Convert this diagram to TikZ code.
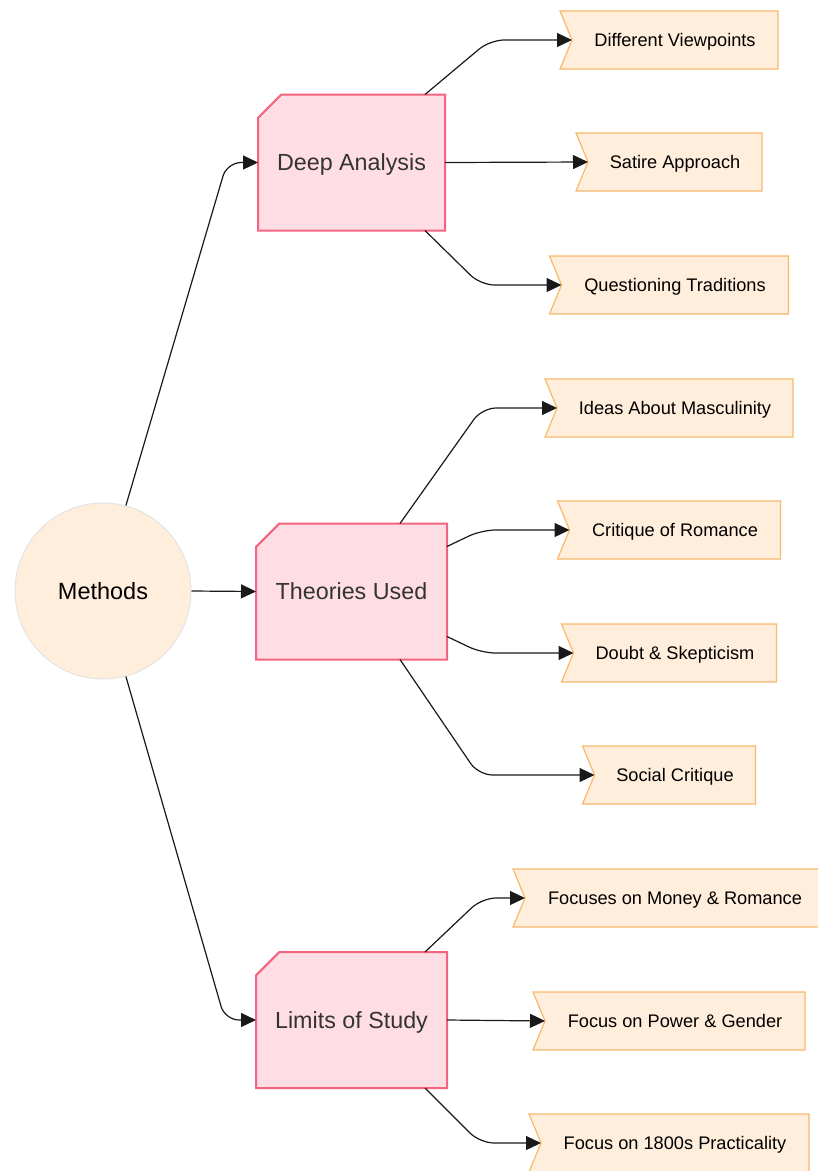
\documentclass[tikz,border=0pt]{standalone}
\usepackage{fontspec}
\setmainfont{Liberation Sans}
\usetikzlibrary{arrows.meta,shapes.misc,calc}
\pgfdeclarelayer{background}
\pgfsetlayers{background,main}
\definecolor{pinkfill}{HTML}{FFDDE4}
\definecolor{pinkline}{HTML}{F2647F}
\definecolor{tagfill}{HTML}{FFEEDB}
\definecolor{tagline}{HTML}{F7B96C}
\definecolor{circline}{HTML}{E4E4E4}
\definecolor{boxtext}{HTML}{333333}
\begin{document}
\begin{tikzpicture}[x=1pt,y=-1pt,
  hub/.style={circle, fill=tagfill, draw=circline, line width=1pt, minimum size=176pt, inner sep=0pt, text=black, font=\fontsize{23.5}{27}\selectfont, text height=16.8pt, text depth=0pt},
  topic/.style={chamfered rectangle, chamfered rectangle corners=north west, chamfered rectangle xsep=15pt, chamfered rectangle ysep=15pt, fill=pinkfill, draw=pinkline, line width=2pt, inner sep=0pt, outer sep=0pt, minimum height=136pt, text=boxtext, font=\fontsize{23.3}{27}\selectfont, text height=16.7pt, text depth=0pt},
  leaf/.style={rectangle, inner sep=0pt, outer sep=0pt, minimum height=58pt, text=black, font=\fontsize{18.2}{21}\selectfont, text height=13pt, text depth=0pt},
  tagshape/.style={fill=tagfill, draw=tagline, line width=1.2pt, line join=miter},
  conn/.style={draw=black!90, line width=1.2pt, -{Triangle[length=15pt,width=14pt]}, rounded corners=14pt},
  straight/.style={draw=black!90, line width=1.2pt, -{Triangle[length=15pt,width=14pt]}}
]
\useasboundingbox (0,0) rectangle (818,1171);

% central hub
\node[hub] (m) at (103,591) {Methods};

% topics
\node[topic, minimum width=187pt] (da) at (351.5,162.5) {Deep Analysis};
\node[topic, minimum width=191pt] (th) at (351.5,591.5) {Theories Used};
\node[topic, minimum width=191pt] (li) at (351.5,1020) {Limits of Study};

% leaves (node spans from notch vertex to right edge)
\node[leaf, minimum width=206pt] (dv) at (675,40) {Different Viewpoints};
\node[leaf, minimum width=174pt] (sa) at (675,162) {Satire Approach};
\node[leaf, minimum width=227pt] (qt) at (675,285) {Questioning Traditions};
\node[leaf, minimum width=236pt] (im) at (675,408) {Ideas About Masculinity};
\node[leaf, minimum width=211pt] (cr) at (675,530) {Critique of Romance};
\node[leaf, minimum width=203pt] (ds) at (675,653) {Doubt \& Skepticism};
\node[leaf, minimum width=161pt] (sc) at (675,775) {Social Critique};
\node[leaf, minimum width=300pt] (fm) at (675,898) {Focuses on Money \& Romance};
\node[leaf, minimum width=260pt] (fp) at (675,1021) {Focus on Power \& Gender};
\node[leaf, minimum width=268pt] (fe) at (675,1143) {Focus on 1800s Practicality};

\begin{pgfonlayer}{background}
\foreach \n in {dv,sa,qt,im,cr,ds,sc,fm,fp,fe}{
  \draw[tagshape] ($(\n.north west)+(-12,0)$) -- (\n.north east) -- (\n.south east) -- ($(\n.south west)+(-12,0)$) -- (\n.west) -- cycle;
}
\end{pgfonlayer}

% hub connectors
\draw[conn] (m.75) -- ($(da.west)+(-31,0)$) -- (da.west);
\draw[straight] (m.east) -- (th.west);
\draw[conn] (m.-75) -- ($(li.west)+(-31,0)$) -- (li.west);

% Deep Analysis
\draw[conn] ($(da.north east)+(-20,0)$) -- ($(dv.west)+(-82,0)$) -- (dv.west);
\draw[straight] (da.east) -- (sa.west);
\draw[conn] ($(da.south east)+(-20,0)$) -- ($(qt.west)+(-81,0)$) -- (qt.west);

% Theories Used
\draw[conn] ($(th.north east)+(-47,0)$) -- ($(im.west)+(-75,0)$) -- (im.west);
\draw[conn] ($(th.east)+(0,-45)$) -- ($(cr.west)+(-88,0)$) -- (cr.west);
\draw[conn] ($(th.east)+(0,45)$) -- ($(ds.west)+(-92,0)$) -- (ds.west);
\draw[conn] ($(th.south east)+(-47,0)$) -- ($(sc.west)+(-116,0)$) -- (sc.west);

% Limits of Study
\draw[conn] ($(li.north east)+(-22,0)$) -- ($(fm.west)+(-43,0)$) -- (fm.west);
\draw[straight] (li.east) -- (fp.west);
\draw[conn] ($(li.south east)+(-22,0)$) -- ($(fe.west)+(-61,0)$) -- (fe.west);
\end{tikzpicture}
\end{document}
